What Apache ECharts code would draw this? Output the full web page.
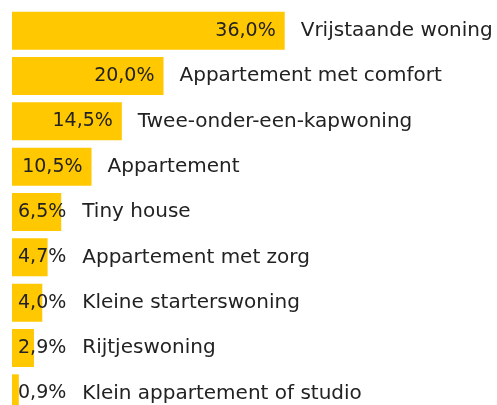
<!DOCTYPE html>
<html>
<head>
<meta charset="utf-8">
<script src="https://cdn.jsdelivr.net/npm/echarts@6/dist/echarts.min.js"></script>
<style>html,body{margin:0;padding:0;background:#fff}#c{width:497px;height:405px}</style>
</head>
<body>
<div id="c"></div>
<script>
const categories = ['Vrijstaande woning','Appartement met comfort','Twee-onder-een-kapwoning','Appartement','Tiny house','Appartement met zorg','Kleine starterswoning','Rijtjeswoning','Klein appartement of studio'];
const values = [36.0, 20.0, 14.5, 10.5, 6.5, 4.7, 4.0, 2.9, 0.9];

const VAL_FONT = '19px "DejaVu Sans"';
const NAME_FONT = '20px "DejaVu Sans"';
const cv = document.createElement('canvas').getContext('2d');
function tw(t, f){ cv.font = f; return cv.measureText(t).width; }
function fmt(v){ return v.toFixed(1).replace('.', ',') + '%'; }

const chart = echarts.init(document.getElementById('c'));
chart.setOption({
  animation: false,
  grid: { left: 12, top: 8, width: 303, height: 408, outerBoundsMode: 'none', containLabel: false },
  xAxis: { type: 'value', min: 0, max: 40, show: false },
  yAxis: { type: 'category', data: categories, inverse: true, show: false },
  series: [{
    type: 'custom',
    clip: false,
    data: values.map((v, i) => [v, i]),
    encode: { x: 0, y: 1 },
    renderItem: function (params, api) {
      const v = api.value(0), c = api.value(1);
      const p0 = api.coord([0, c]);
      const p1 = api.coord([v, c]);
      const bh = api.size([0, 1])[1] * 0.838;
      const cy = p0[1];
      const vt = fmt(v);
      const w = tw(vt, VAL_FONT);
      const vr = Math.max(p1[0] - 9, p0[0] + 6 + w);
      const nx = Math.max(p1[0], vr) + 16;
      return {
        type: 'group',
        children: [
          { type: 'rect', shape: { x: p0[0], y: cy - bh / 2, width: p1[0] - p0[0], height: bh }, style: { fill: '#FFC800' } },
          { type: 'text', style: { text: vt, x: vr, y: cy, align: 'right', textAlign: 'right', verticalAlign: 'middle', textVerticalAlign: 'middle', font: VAL_FONT, fill: '#222' } },
          { type: 'text', style: { text: categories[c], x: nx, y: cy, align: 'left', textAlign: 'left', verticalAlign: 'middle', textVerticalAlign: 'middle', font: NAME_FONT, fill: '#222' } }
        ]
      };
    }
  }]
});
</script>
</body>
</html>
